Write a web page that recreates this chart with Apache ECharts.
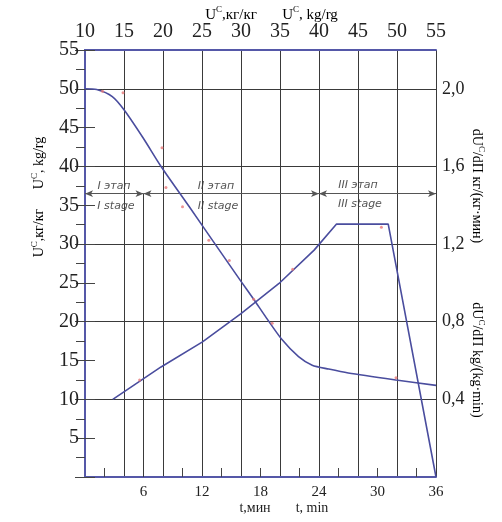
<!DOCTYPE html>
<html><head><meta charset="utf-8">
<script src="https://cdn.jsdelivr.net/npm/echarts@6/dist/echarts.min.js"></script>
<style>html,body{margin:0;padding:0;background:#fff}#c{width:502px;height:522px}</style>
</head><body><div id="c"></div>
<script>
// Moisture content curve U^C (left axis) vs time t, min
const moistT = [0, 1.2, 2.8, 4.0, 6.0, 7.8, 10.7, 13.4, 16.0, 17.3, 18.6, 20.2, 21.9, 23.3, 25.0, 27.0, 31.9, 36.0];
const moistU = [50.0, 49.9, 49.0, 47.3, 43.6, 40.0, 34.8, 29.9, 25.2, 22.9, 20.5, 17.7, 15.5, 14.4, 13.9, 13.4, 12.5, 11.8];
// Drying rate curve dU/dt (right axis)
const rateT = [2.85, 7.8, 12.05, 16.0, 19.9, 23.5, 25.8, 31.1, 36.0];
const rateV = [0.40, 0.567, 0.696, 0.842, 0.997, 1.169, 1.303, 1.303, 0];
// Experimental points
const expMoistT = [1.8, 3.9, 7.9, 8.3, 10.0, 12.7, 14.8, 17.3, 19.2, 31.9];
const expMoistU = [49.7, 49.5, 42.4, 37.3, 34.8, 30.5, 27.9, 22.9, 19.8, 12.8];
const expRateT = [5.6, 21.3, 30.4];
const expRateV = [0.50, 1.07, 1.287];
// Stage dimension line (left-axis value) and stage boundaries (t, min)
const stageLevel = 36.5;
const stageBounds = [0, 6, 24, 36];
const stageNamesRu = ['I этап', 'II этап', 'III этап'];
const stageNamesEn = ['I stage', 'II stage', 'III stage'];

const FRAME = '#5558a8', CURVE = '#4a4d9e', GRID = '#3a3a3a', PT = '#e87878';
const SERIF = '"Liberation Serif","DejaVu Serif",serif';

function pairs(a, b) { return a.map((v, i) => [v, b[i]]); }
const richU = (fs) => ({
  m: {fontSize: fs, fontFamily: SERIF, color: '#222', verticalAlign: 'bottom'},
  s: {fontSize: Math.round(fs * 0.62), fontFamily: SERIF, color: '#222', verticalAlign: 'bottom', padding: [0, 0, Math.round(fs * 0.5), 0]}
});

const stageSegs = [];
for (let i = 0; i < stageBounds.length - 1; i++) {
  stageSegs.push([{coord: [stageBounds[i], stageLevel]}, {coord: [stageBounds[i + 1], stageLevel]}]);
}

const chart = echarts.init(document.getElementById('c'), null, {renderer: 'canvas'});
chart.setOption({
  animation: false,
  backgroundColor: '#fff',
  grid: {left: 85, right: 66, top: 50, bottom: 45, containLabel: false},
  xAxis: [
    {type: 'value', min: 0, max: 36, interval: 6, position: 'bottom',
     axisLine: {lineStyle: {color: FRAME, width: 2}}, axisTick: {show: false},
     axisLabel: {formatter: v => v === 0 ? '' : String(v), fontSize: 15, fontFamily: SERIF, color: '#222', margin: 8},
     splitLine: {show: false}},
    {type: 'value', min: 0, max: 36, interval: 4, position: 'bottom',
     axisLine: {show: false}, axisLabel: {show: false}, axisTick: {show: false, inside: true},
     minorTick: {show: true, splitNumber: 2, length: 9, lineStyle: {color: '#444', width: 1}},
     splitLine: {show: false}},
    {type: 'value', min: 10, max: 55, interval: 5, position: 'top',
     axisLine: {lineStyle: {color: FRAME, width: 2}}, axisTick: {show: false},
     axisLabel: {fontSize: 20, fontFamily: SERIF, color: '#222', margin: 8},
     splitLine: {show: true, lineStyle: {color: GRID, width: 1}}}
  ],
  yAxis: [
    {type: 'value', min: 0, max: 55, interval: 5, position: 'left',
     axisLine: {lineStyle: {color: FRAME, width: 2}},
     axisTick: {show: true, inside: true, length: 10, lineStyle: {color: '#444'}},
     axisLabel: {formatter: v => v === 0 ? '' : String(v), fontSize: 20, fontFamily: SERIF, color: '#222', margin: 6},
     splitLine: {show: false}},
    {type: 'value', min: 0, max: 2.2, interval: 0.4, position: 'right',
     axisLine: {lineStyle: {color: FRAME, width: 2}},
     axisTick: {show: true, inside: true, length: 10, lineStyle: {color: '#444'}},
     minorTick: {show: true, splitNumber: 4, length: 9, lineStyle: {color: '#444'}},
     axisLabel: {formatter: v => (v < 0.01 || v > 2.1) ? '' : v.toFixed(1).replace('.', ','), fontSize: 18, fontFamily: SERIF, color: '#222', margin: 6},
     splitLine: {show: true, lineStyle: {color: GRID, width: 1}}}
  ],
  series: [
    {type: 'line', name: 'U', xAxisIndex: 0, yAxisIndex: 0, data: pairs(moistT, moistU),
     smooth: 0.25, symbol: 'none', lineStyle: {color: CURVE, width: 1.6}, z: 5,
     markLine: {silent: true, symbol: ['none', 'none'], label: {show: false},
       lineStyle: {color: GRID, width: 1, type: 'solid'},
       data: [[{coord: [stageBounds[1], stageLevel]}, {coord: [stageBounds[1], 0]}]]}},
    {type: 'line', name: 'rate', xAxisIndex: 0, yAxisIndex: 1, data: pairs(rateT, rateV),
     smooth: false, symbol: 'none', lineStyle: {color: CURVE, width: 1.6}, z: 5,
     markLine: {silent: true, symbol: ['arrow', 'arrow'], symbolSize: [5, 8], label: {show: false},
       lineStyle: {color: '#555', width: 1, type: 'solid'},
       data: stageSegs.map(s => [{coord: [s[0].coord[0], s[0].coord[1] / 55 * 2.2]}, {coord: [s[1].coord[0], s[1].coord[1] / 55 * 2.2]}])}},
    {type: 'scatter', xAxisIndex: 0, yAxisIndex: 0, data: pairs(expMoistT, expMoistU),
     symbol: 'circle', symbolSize: 3, itemStyle: {color: PT}, z: 6},
    {type: 'scatter', xAxisIndex: 0, yAxisIndex: 1, data: pairs(expRateT, expRateV),
     symbol: 'circle', symbolSize: 3, itemStyle: {color: PT}, z: 6}
  ],
  graphic: [
    {type: 'text', x: 231, y: 14, style: {text: '{m|U}{s|C}{m|,кг/кг}', rich: richU(15), align: 'center', verticalAlign: 'middle'}},
    {type: 'text', x: 310, y: 14, style: {text: '{m|U}{s|C}{m|, kg/rg}', rich: richU(15), align: 'center', verticalAlign: 'middle'}},
    {type: 'text', x: 38, y: 163, rotation: Math.PI / 2, style: {text: '{m|U}{s|C}{m|, kg/rg}', rich: richU(14), align: 'center', verticalAlign: 'middle'}},
    {type: 'text', x: 38, y: 233, rotation: Math.PI / 2, style: {text: '{m|U}{s|C}{m|,кг/кг}', rich: richU(14), align: 'center', verticalAlign: 'middle'}},
    {type: 'text', x: 478, y: 186, rotation: -Math.PI / 2, style: {text: '{m|dU}{s|C}{m|/dП кг/(кг·мин)}', rich: richU(14), align: 'center', verticalAlign: 'middle'}},
    {type: 'text', x: 478, y: 360, rotation: -Math.PI / 2, style: {text: '{m|dU}{s|C}{m|/dП kg/(kg·min)}', rich: richU(14), align: 'center', verticalAlign: 'middle'}},
    {type: 'text', x: 255, y: 508, style: {text: 't,мин', font: '14px ' + SERIF, fill: '#222', align: 'center', verticalAlign: 'middle'}},
    {type: 'text', x: 312, y: 508, style: {text: 't, min', font: '14px ' + SERIF, fill: '#222', align: 'center', verticalAlign: 'middle'}},
    {type: 'text', x: 114, y: 186, style: {text: stageNamesRu[0], font: 'italic 11px "DejaVu Sans"', fill: '#555', align: 'center', verticalAlign: 'middle'}},
    {type: 'text', x: 116, y: 206, style: {text: stageNamesEn[0], font: 'italic 11px "DejaVu Sans"', fill: '#555', align: 'center', verticalAlign: 'middle'}},
    {type: 'text', x: 216, y: 186, style: {text: stageNamesRu[1], font: 'italic 11px "DejaVu Sans"', fill: '#555', align: 'center', verticalAlign: 'middle'}},
    {type: 'text', x: 218, y: 206, style: {text: stageNamesEn[1], font: 'italic 11px "DejaVu Sans"', fill: '#555', align: 'center', verticalAlign: 'middle'}},
    {type: 'text', x: 358, y: 185, style: {text: stageNamesRu[2], font: 'italic 11px "DejaVu Sans"', fill: '#555', align: 'center', verticalAlign: 'middle'}},
    {type: 'text', x: 360, y: 204, style: {text: stageNamesEn[2], font: 'italic 11px "DejaVu Sans"', fill: '#555', align: 'center', verticalAlign: 'middle'}}
  ]
});
</script></body></html>
